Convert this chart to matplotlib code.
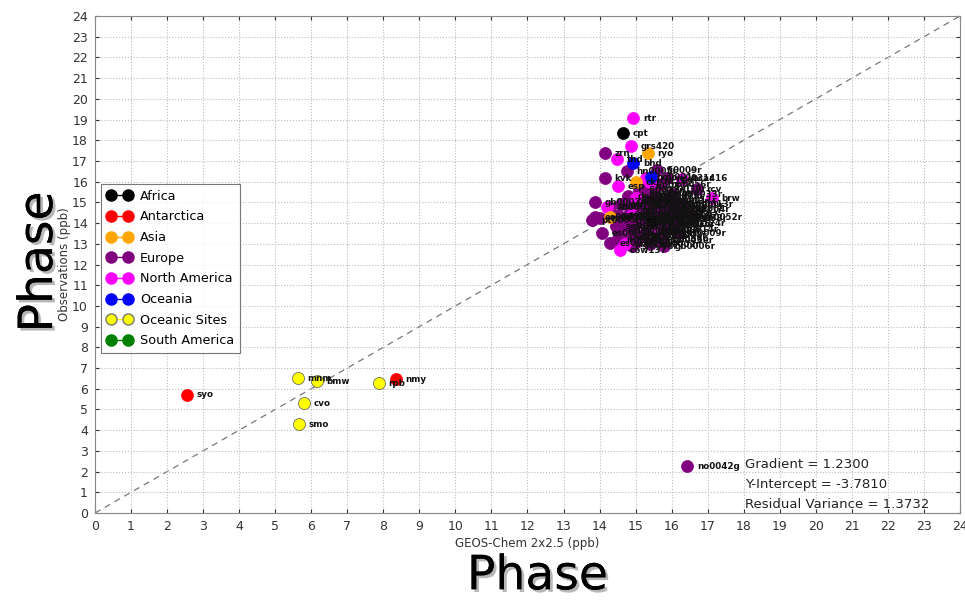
import matplotlib
matplotlib.use("Agg")
import matplotlib.pyplot as plt
import matplotlib.patheffects as pe
from matplotlib.lines import Line2D

regions = ["Africa", "Antarctica", "Asia", "Europe", "North America",
           "Oceania", "Oceanic Sites", "South America"]
colors = ["black", "red", "orange", "purple", "magenta", "blue", "yellow", "green"]

africa_x = [14.65, 15.45]
africa_y = [18.35, 14.10]
africa_lab = ["cpt", "izo"]

antarctica_x = [2.55, 8.35]
antarctica_y = [5.72, 6.47]
antarctica_lab = ["syo", "nmy"]

asia_x = [15.34, 15.00, 14.29]
asia_y = [17.38, 15.98, 14.29]
asia_lab = ["ryo", "ckt", "yon"]

europe_x = [14.15, 14.15, 14.76, 15.59, 15.87, 16.70, 16.56, 13.87, 13.87, 14.01,
            13.79, 14.07, 14.29, 14.48, 16.43, 14.60, 14.80, 15.00, 15.20, 15.40,
            15.60, 15.80, 16.00, 14.70, 14.90, 15.10, 15.30, 15.50, 15.70, 15.90,
            16.10, 14.50, 14.80, 15.00, 15.20, 15.40, 15.60, 15.80, 16.20, 14.40,
            15.10, 15.50, 15.90, 16.30, 14.30, 15.30, 15.70, 16.00, 14.90, 15.35,
            15.05, 15.65, 16.15, 14.55, 15.25, 15.75, 14.65, 15.45, 15.95, 14.95,
            14.85, 15.15, 15.55, 15.85, 14.75, 15.25, 15.65, 16.05, 14.95, 15.45,
            15.85, 15.05, 15.35, 15.75, 14.65, 15.15, 15.55, 15.95, 14.45, 16.25]
europe_y = [17.38, 16.18, 16.51, 16.56, 16.18, 15.64, 14.29, 15.02, 14.29, 14.24,
            14.15, 13.52, 13.04, 13.18, 2.27, 14.90, 15.30, 14.60, 15.00, 14.40,
            14.80, 14.20, 14.60, 14.10, 13.80, 14.20, 13.60, 13.90, 13.40, 13.70,
            14.00, 13.60, 13.30, 13.10, 13.40, 13.00, 13.20, 12.90, 13.50, 14.40,
            15.60, 15.30, 15.10, 14.90, 14.80, 15.80, 15.90, 15.40, 12.90, 14.75,
            14.05, 14.35, 14.25, 14.35, 14.95, 14.65, 13.85, 14.15, 13.95, 15.15,
            14.55, 14.85, 14.55, 14.45, 15.05, 14.25, 15.05, 14.85, 13.55, 13.65,
            13.95, 13.35, 15.35, 13.15, 13.25, 15.45, 15.65, 14.35, 13.85, 14.65]
europe_lab = ["zrn", "kvk", "hn0005r", "fi0009r", "ie0031r", "rcv", "gb0052r", "gb0002r",
              "es0007r", "es0008r", "pt0004r", "es0009r", "es0010r", "it0004r", "no0042g",
              "at0002r", "de0001r", "at0032r", "ch0001g", "at0034g", "dk0031r", "at0038r",
              "gb0031r", "ch0002r", "ch0003r", "cz0001r", "de0002r", "de0007r", "fr0008r",
              "gb0014r", "gb0124r", "es0011r", "es0012r", "fr0009r", "gr0001r", "hu0002r",
              "gb0036r", "gb0006r", "nl0009r", "es0016r", "fi0022r", "no0015r", "se0011r",
              "gb0013r", "es0014r", "fi0037r", "no0056r", "gb0033r", "si0008r", "at0037r",
              "cz0003r", "de0008r", "gb0038r", "fr0013r", "pl0002r", "se0032r", "sk0002r",
              "pl0004r", "lt0015r", "nl0010r", "at0040r", "at0041r", "at0042r", "at0043r",
              "ch0004r", "ch0005r", "de0003r", "de0009r", "dk0005r", "es0013r", "fr0010r",
              "gb0015r", "gb0037r", "gb0039r", "lv0010r", "no0001r", "no0039r", "pl0003r",
              "se0012r", "sk0004r"]

namerica_x = [14.93, 14.87, 14.48, 15.30, 14.51, 17.12, 14.21, 14.57, 16.30, 15.00,
              15.40, 14.70, 15.60, 14.90]
namerica_y = [19.07, 17.72, 17.10, 16.20, 15.79, 15.21, 14.78, 12.70, 16.15, 15.20,
              16.00, 13.00, 13.70, 14.40]
namerica_lab = ["rtr", "grs420", "thd", "ho0001r", "esp", "brw", "ab0001r", "cow137",
                "aca416", "cad150", "cnt169", "pnd165", "vpi120", "gth161"]

oceania_x = [14.93, 15.43]
oceania_y = [16.90, 16.22]
oceania_lab = ["bhd", "cgo"]

oceanic_x = [5.63, 6.16, 5.80, 5.66, 7.88]
oceanic_y = [6.52, 6.37, 5.31, 4.30, 6.28]
oceanic_lab = ["mnm", "bmw", "cvo", "smo", "rpb"]

samerica_x = []
samerica_y = []
samerica_lab = []

series = [(africa_x, africa_y, africa_lab),
          (antarctica_x, antarctica_y, antarctica_lab),
          (asia_x, asia_y, asia_lab),
          (europe_x, europe_y, europe_lab),
          (namerica_x, namerica_y, namerica_lab),
          (oceania_x, oceania_y, oceania_lab),
          (oceanic_x, oceanic_y, oceanic_lab),
          (samerica_x, samerica_y, samerica_lab)]

stats = ["Gradient = 1.2300", "Y-Intercept = -3.7810", "Residual Variance = 1.3732"]

fig = plt.figure(figsize=(9.65, 6.02), dpi=100)
ax = fig.add_axes([0.0984, 0.1478, 0.8964, 0.8256])

ax.plot([0, 24], [0, 24], color="#777777", ls=(0, (5, 4)), lw=0.9, zorder=1)

# draw order: Europe first so the others sit on top of the blob
order = [3, 4, 0, 2, 5, 6, 1, 7]
for i in order:
    xs, ys, labs = series[i]
    ax.scatter(xs, ys, s=75, c=colors[i], edgecolors="#555555" if i == 6 else colors[i],
               linewidths=0.5, zorder=3)
    for x, y, t in zip(xs, ys, labs):
        ax.annotate(t, (x, y), xytext=(7, -2), textcoords="offset points",
                    fontsize=6.3, fontweight="bold", color="#111111", zorder=4)

for k, s in enumerate(stats):
    ax.text(18.03, 2.32 - 0.95 * k, s, fontsize=9.5, color="#222222", va="center")

ax.set_xlim(0, 24)
ax.set_ylim(0, 24)
ax.set_xticks(range(25))
ax.set_yticks(range(25))
ax.grid(True, ls=":", color="#bbbbbb", lw=0.8)
ax.tick_params(direction="in", top=True, right=True, labelsize=9, colors="#333333",
               length=3, pad=5)
for sp in ax.spines.values():
    sp.set_color("#888888")
ax.set_xlabel("GEOS-Chem 2x2.5 (ppb)", fontsize=8.5, color="#333333", labelpad=3)
ax.set_ylabel("Observations (ppb)", fontsize=8.5, color="#333333", labelpad=1)

handles = [Line2D([0], [0], color=c, marker="o", markersize=8, lw=1,
                  markeredgecolor="#777777" if c == "yellow" else c)
           for c in colors]
leg = ax.legend(handles, regions, loc="upper left", bbox_to_anchor=(0.007, 0.662),
                borderaxespad=0, numpoints=2, fontsize=9.2, fancybox=False,
                handlelength=2.0, handletextpad=0.6, labelspacing=0.6, borderpad=0.45)
leg.get_frame().set_edgecolor("#555555")
leg.get_frame().set_linewidth(0.8)

shadow = [pe.withSimplePatchShadow(offset=(2, -2), shadow_rgbFace="#888888", alpha=0.6),
          pe.Normal()]
fig.text(0.557, 0.042, "Phase", fontsize=34, ha="center", va="center",
         color="black", path_effects=shadow)
fig.text(0.041, 0.565, "Phase", fontsize=34, ha="center", va="center",
         rotation=90, color="black", path_effects=shadow)

fig.savefig("out.png", dpi=100)
